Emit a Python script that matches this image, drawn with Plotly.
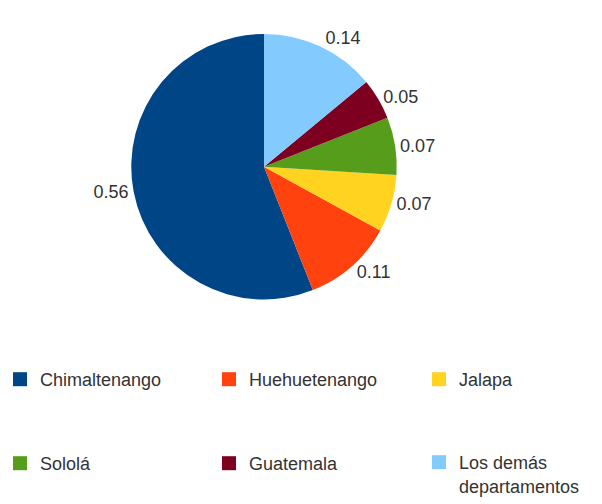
import plotly.graph_objects as go

# Share by department
departments = ["Chimaltenango", "Huehuetenango", "Jalapa", "Sololá", "Guatemala",
               "Los demás departamentos"]
legend_names = ["Chimaltenango", "Huehuetenango", "Jalapa", "Sololá", "Guatemala",
                "Los demás<br>departamentos"]
shares = [0.56, 0.11, 0.07, 0.07, 0.05, 0.14]
colors = ["#004586", "#ff420e", "#ffd320", "#579d1c", "#7e0021", "#83caff"]

W, H = 602, 504
cx, cy, r = 264, 167, 133
FONT = "Liberation Sans, Arial, sans-serif"

# First slice runs counterclockwise from 12 o'clock
start_rotation = -360 * shares[0] / sum(shares)

fig = go.Figure()

fig.add_trace(go.Pie(
    labels=departments,
    values=shares,
    text=[f"{v:.2f}" for v in shares],
    textinfo="text",
    textposition="outside",
    textfont=dict(size=18, color="#333333", family=FONT),
    marker=dict(colors=colors, line=dict(width=0)),
    sort=False,
    direction="counterclockwise",
    rotation=start_rotation,
    domain=dict(x=[(cx - r) / W, (cx + r) / W], y=[(H - cy - r) / H, (H - cy + r) / H]),
    showlegend=False,
    hoverinfo="label+value",
))

# Legend: a 3 x 2 grid, one legend box per entry
col_x = [0, 209, 419]
row_y = [361, 445]
layout_legends = {}
for i, (name, col) in enumerate(zip(legend_names, colors)):
    key = "legend" if i == 0 else f"legend{i + 1}"
    fig.add_trace(go.Scatter(
        x=[None], y=[None],
        mode="markers",
        marker=dict(symbol="square", size=14, color=col),
        name=name,
        legend=key,
        hoverinfo="skip",
    ))
    layout_legends[key] = dict(
        x=col_x[i % 3] / W, xanchor="left",
        y=(H - row_y[i // 3]) / H, yanchor="top",
        valign="top",
        font=dict(size=18, color="#333333", family=FONT),
        bgcolor="rgba(0,0,0,0)",
    )

fig.update_layout(
    width=W, height=H,
    margin=dict(l=0, r=0, t=0, b=0),
    paper_bgcolor="white",
    plot_bgcolor="white",
    font=dict(family=FONT, size=18, color="#333333"),
    xaxis=dict(visible=False),
    yaxis=dict(visible=False),
    **layout_legends,
)

fig.write_html("out.html")
